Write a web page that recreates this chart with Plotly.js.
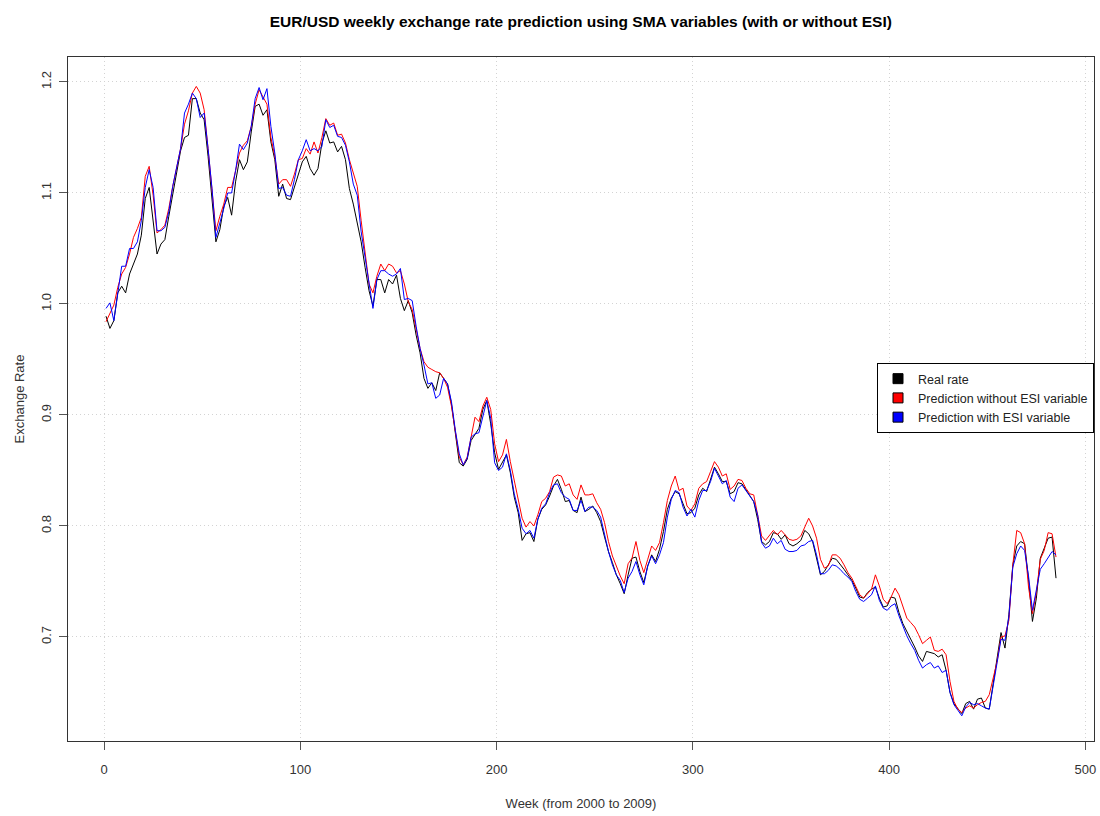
<!DOCTYPE html>
<html>
<head>
<meta charset="utf-8">
<script src="https://cdn.plot.ly/plotly-3.0.1.min.js"></script>
<style>html,body{margin:0;padding:0;background:#fff;}#chart{width:1100px;height:816px;}</style>
</head>
<body>
<div id="chart"></div>
<script>
// Week index (every second week)
const weeks = [
  1,3,5,7,9,11,13,15,17,19,
  21,23,25,27,29,31,33,35,37,39,
  41,43,45,47,49,51,53,55,57,59,
  61,63,65,67,69,71,73,75,77,79,
  81,83,85,87,89,91,93,95,97,99,
  101,103,105,107,109,111,113,115,117,119,
  121,123,125,127,129,131,133,135,137,139,
  141,143,145,147,149,151,153,155,157,159,
  161,163,165,167,169,171,173,175,177,179,
  181,183,185,187,189,191,193,195,197,199,
  201,203,205,207,209,211,213,215,217,219,
  221,223,225,227,229,231,233,235,237,239,
  241,243,245,247,249,251,253,255,257,259,
  261,263,265,267,269,271,273,275,277,279,
  281,283,285,287,289,291,293,295,297,299,
  301,303,305,307,309,311,313,315,317,319,
  321,323,325,327,329,331,333,335,337,339,
  341,343,345,347,349,351,353,355,357,359,
  361,363,365,367,369,371,373,375,377,379,
  381,383,385,387,389,391,393,395,397,399,
  401,403,405,407,409,411,413,415,417,419,
  421,423,425,427,429,431,433,435,437,439,
  441,443,445,447,449,451,453,455,457,459,
  461,463,465,467,469,471,473,475,477,479,
  481,483,485
];

const realRate = [
  0.989,0.978,0.985,1.010,1.016,1.010,1.027,1.037,1.045,1.062,
  1.095,1.105,1.075,1.045,1.054,1.058,1.079,1.100,1.121,1.138,
  1.150,1.152,1.185,1.185,1.172,1.166,1.133,1.092,1.056,1.067,
  1.088,1.096,1.080,1.110,1.130,1.121,1.128,1.155,1.178,1.180,
  1.170,1.175,1.146,1.130,1.097,1.108,1.095,1.094,1.106,1.118,
  1.128,1.133,1.122,1.116,1.122,1.145,1.156,1.145,1.146,1.137,
  1.142,1.130,1.104,1.090,1.072,1.056,1.033,1.012,0.998,1.022,
  1.022,1.010,1.022,1.018,1.026,1.005,0.994,1.003,0.992,0.972,
  0.956,0.933,0.924,0.929,0.922,0.938,0.933,0.928,0.910,0.884,
  0.857,0.854,0.860,0.877,0.882,0.888,0.905,0.913,0.892,0.866,
  0.851,0.857,0.864,0.848,0.826,0.812,0.787,0.793,0.794,0.786,
  0.806,0.815,0.819,0.827,0.836,0.842,0.833,0.822,0.823,0.814,
  0.812,0.826,0.813,0.815,0.818,0.812,0.804,0.790,0.777,0.767,
  0.756,0.748,0.739,0.756,0.771,0.772,0.759,0.749,0.764,0.774,
  0.768,0.779,0.795,0.815,0.825,0.831,0.829,0.820,0.811,0.812,
  0.816,0.828,0.834,0.831,0.842,0.853,0.847,0.840,0.840,0.829,
  0.831,0.839,0.838,0.833,0.828,0.822,0.806,0.786,0.783,0.786,
  0.794,0.793,0.788,0.792,0.784,0.782,0.784,0.787,0.796,0.793,
  0.786,0.770,0.756,0.759,0.765,0.771,0.770,0.766,0.761,0.756,
  0.751,0.744,0.736,0.735,0.740,0.743,0.745,0.735,0.727,0.728,
  0.736,0.735,0.722,0.712,0.705,0.699,0.691,0.683,0.678,0.687,
  0.686,0.685,0.682,0.684,0.670,0.650,0.640,0.635,0.631,0.640,
  0.642,0.635,0.644,0.645,0.636,0.635,0.659,0.681,0.704,0.690,
  0.720,0.765,0.782,0.786,0.784,0.752,0.714,0.735,0.771,0.780,
  0.789,0.790,0.753
];

const predNoESI = [
  0.984,0.992,0.999,1.015,1.027,1.033,1.045,1.060,1.068,1.078,
  1.115,1.124,1.098,1.064,1.067,1.071,1.086,1.106,1.124,1.140,
  1.162,1.174,1.190,1.196,1.190,1.175,1.140,1.104,1.066,1.079,
  1.090,1.105,1.105,1.120,1.136,1.143,1.147,1.160,1.180,1.193,
  1.186,1.180,1.150,1.133,1.108,1.112,1.112,1.106,1.117,1.130,
  1.131,1.140,1.135,1.146,1.136,1.150,1.167,1.161,1.163,1.152,
  1.153,1.145,1.130,1.118,1.106,1.075,1.045,1.018,1.010,1.025,
  1.036,1.030,1.036,1.034,1.028,1.030,1.018,1.002,0.995,0.978,
  0.960,0.948,0.943,0.941,0.939,0.938,0.933,0.925,0.908,0.885,
  0.862,0.855,0.862,0.880,0.898,0.894,0.908,0.916,0.905,0.874,
  0.858,0.864,0.878,0.858,0.842,0.826,0.807,0.799,0.804,0.800,
  0.810,0.822,0.825,0.831,0.844,0.846,0.845,0.836,0.838,0.828,
  0.824,0.837,0.828,0.828,0.829,0.821,0.815,0.803,0.786,0.773,
  0.763,0.755,0.748,0.766,0.771,0.786,0.769,0.758,0.770,0.782,
  0.778,0.785,0.803,0.823,0.836,0.845,0.832,0.834,0.818,0.814,
  0.820,0.834,0.838,0.840,0.849,0.858,0.853,0.845,0.847,0.833,
  0.836,0.842,0.841,0.834,0.829,0.828,0.810,0.791,0.787,0.791,
  0.796,0.792,0.796,0.792,0.788,0.787,0.788,0.791,0.799,0.807,
  0.800,0.789,0.770,0.762,0.764,0.774,0.774,0.771,0.765,0.758,
  0.753,0.746,0.738,0.735,0.739,0.743,0.756,0.746,0.734,0.730,
  0.736,0.744,0.738,0.728,0.717,0.713,0.709,0.702,0.694,0.697,
  0.700,0.688,0.687,0.689,0.684,0.660,0.642,0.635,0.632,0.636,
  0.638,0.636,0.639,0.641,0.642,0.648,0.662,0.678,0.700,0.701,
  0.715,0.765,0.796,0.794,0.784,0.745,0.721,0.740,0.770,0.778,
  0.794,0.793,0.772
];

const predWithESI = [
  0.996,1.001,0.985,1.010,1.034,1.034,1.050,1.050,1.056,1.075,
  1.105,1.121,1.105,1.066,1.066,1.069,1.083,1.106,1.122,1.140,
  1.172,1.180,1.190,1.185,1.168,1.172,1.140,1.104,1.060,1.072,
  1.086,1.100,1.100,1.120,1.144,1.139,1.145,1.160,1.185,1.195,
  1.184,1.194,1.160,1.136,1.104,1.105,1.098,1.097,1.112,1.130,
  1.138,1.148,1.138,1.140,1.138,1.142,1.166,1.159,1.161,1.151,
  1.150,1.143,1.128,1.108,1.098,1.065,1.042,1.020,0.996,1.022,
  1.030,1.030,1.027,1.025,1.027,1.032,1.004,1.005,1.003,0.980,
  0.960,0.945,0.928,0.929,0.915,0.918,0.933,0.928,0.912,0.886,
  0.865,0.855,0.861,0.880,0.883,0.884,0.900,0.913,0.897,0.857,
  0.850,0.853,0.865,0.850,0.829,0.815,0.798,0.793,0.796,0.789,
  0.806,0.816,0.820,0.830,0.837,0.838,0.830,0.826,0.824,0.814,
  0.814,0.823,0.813,0.817,0.817,0.814,0.808,0.792,0.777,0.765,
  0.756,0.751,0.740,0.753,0.759,0.768,0.756,0.747,0.764,0.773,
  0.766,0.774,0.785,0.808,0.824,0.832,0.830,0.817,0.809,0.815,
  0.808,0.823,0.832,0.832,0.840,0.852,0.845,0.838,0.841,0.826,
  0.822,0.834,0.837,0.832,0.828,0.822,0.810,0.785,0.780,0.782,
  0.789,0.784,0.787,0.779,0.777,0.777,0.778,0.782,0.783,0.786,
  0.787,0.774,0.757,0.757,0.760,0.765,0.764,0.761,0.757,0.754,
  0.750,0.741,0.734,0.732,0.735,0.738,0.746,0.733,0.726,0.724,
  0.728,0.730,0.719,0.709,0.701,0.694,0.688,0.679,0.672,0.675,
  0.677,0.672,0.674,0.668,0.670,0.650,0.639,0.634,0.629,0.637,
  0.641,0.639,0.640,0.638,0.636,0.635,0.658,0.677,0.698,0.697,
  0.718,0.763,0.775,0.782,0.778,0.755,0.724,0.741,0.761,0.766,
  0.771,0.777,0.774
];

const seriesNames = ["Real rate", "Prediction without ESI variable", "Prediction with ESI variable"];
const seriesColors = ["#000000", "#ff0000", "#0000ff"];
const xTickVals = [0, 100, 200, 300, 400, 500];
const yTickVals = [0.7, 0.8, 0.9, 1.0, 1.1, 1.2];
const yTickText = ["0.7", "0.8", "0.9", "1.0", "1.1", "1.2"];

const FONT = "Liberation Sans, Arial, Helvetica, sans-serif";
const seriesValues = [realRate, predNoESI, predWithESI];

const traces = [];
seriesValues.forEach((vals, i) => {
  traces.push({
    x: weeks, y: vals, type: "scatter", mode: "lines",
    line: {color: seriesColors[i], width: 1},
    showlegend: false, hoverinfo: "x+y", name: seriesNames[i]
  });
});
seriesNames.forEach((nm, i) => {
  traces.push({
    x: [null], y: [null], type: "scatter", mode: "markers", name: nm,
    marker: {symbol: "square", size: 10, color: seriesColors[i], line: {color: "#000", width: 1}},
    showlegend: true
  });
});

const layout = {
  width: 1100, height: 816,
  margin: {l: 68, r: 6, t: 57, b: 75},
  paper_bgcolor: "#fff", plot_bgcolor: "#fff",
  font: {family: FONT, size: 13, color: "#222"},
  title: {
    text: "<b>EUR/USD weekly exchange rate prediction using SMA variables (with or without ESI)</b>",
    font: {family: FONT, size: 15.5, color: "#000"},
    x: 0.528, xanchor: "center", y: 0.974, yanchor: "middle", xref: "container", yref: "container"
  },
  xaxis: {
    range: [-18.36, 504.36], tickvals: xTickVals, ticks: "outside", ticklen: 8, tickcolor: "#555",
    showline: true, mirror: true, linecolor: "#333", linewidth: 1,
    showgrid: true, gridcolor: "#d3d3d3", griddash: "1px,3px", gridwidth: 1, zeroline: false,
    tickfont: {family: FONT, size: 13, color: "#333"}, ticklabelstandoff: 8,
    title: {text: "Week (from 2000 to 2009)", font: {family: FONT, size: 13, color: "#333"}, standoff: 23},
    automargin: false
  },
  yaxis: {
    range: [0.6063, 1.2225], tickvals: yTickVals, ticktext: yTickText, tickangle: -90,
    ticks: "outside", ticklen: 8, tickcolor: "#555",
    showline: true, mirror: true, linecolor: "#333", linewidth: 1,
    showgrid: true, gridcolor: "#d3d3d3", griddash: "1px,3px", gridwidth: 1, zeroline: false,
    tickfont: {family: FONT, size: 13, color: "#333"}, ticklabelstandoff: 3,
    title: {text: "Exchange Rate", font: {family: FONT, size: 13, color: "#333"}, standoff: 11},
    automargin: false
  },
  legend: {
    x: 1, xanchor: "right", y: 0.5526, yanchor: "top",
    bgcolor: "#fff", bordercolor: "#000", borderwidth: 1,
    font: {family: FONT, size: 12.5, color: "#222"},
    tracegroupgap: 0, itemwidth: 30
  },
  showlegend: true
};

Plotly.newPlot("chart", traces, layout, {displayModeBar: false, staticPlot: true});
</script>
</body>
</html>
